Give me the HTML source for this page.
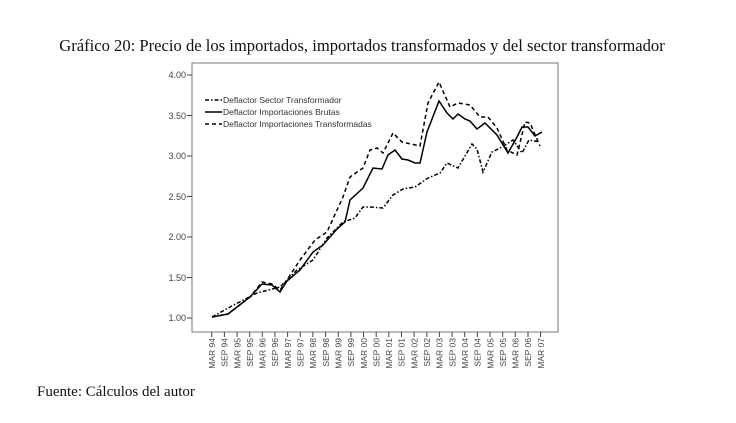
<!DOCTYPE html>
<html><head><meta charset="utf-8"><style>
body{margin:0;background:#fff;width:736px;height:418px;overflow:hidden}
</style></head><body>
<svg width="736" height="418" xmlns="http://www.w3.org/2000/svg">
<text x="362" y="51" text-anchor="middle" font-family="Liberation Serif, serif" font-size="16.6" fill="#111">Gráfico 20: Precio de los importados, importados transformados y del sector transformador</text>
<text x="37" y="396" font-family="Liberation Serif, serif" font-size="15" fill="#111">Fuente: Cálculos del autor</text>
<rect x="192" y="63" width="366" height="269" fill="none" stroke="#777" stroke-width="1"/>
<g font-family="Liberation Sans, sans-serif" font-size="9" fill="#444" text-anchor="end">
<text x="186" y="78">4.00</text><line x1="187" y1="75" x2="192" y2="75" stroke="#444"/>
<text x="186" y="119">3.50</text><line x1="187" y1="115.5" x2="192" y2="115.5" stroke="#444"/>
<text x="186" y="159">3.00</text><line x1="187" y1="156" x2="192" y2="156" stroke="#444"/>
<text x="186" y="200">2.50</text><line x1="187" y1="196.5" x2="192" y2="196.5" stroke="#444"/>
<text x="186" y="240">2.00</text><line x1="187" y1="237" x2="192" y2="237" stroke="#444"/>
<text x="186" y="281">1.50</text><line x1="187" y1="277.5" x2="192" y2="277.5" stroke="#444"/>
<text x="186" y="321">1.00</text><line x1="187" y1="318" x2="192" y2="318" stroke="#444"/>
</g>
<g fill="none" stroke="#000" stroke-width="1.5">
<polyline points="212,317 228,314 250,297 262,284 272,285 280,292 287,281 300,270 313,252 323,245 337,229 345,222 350,200 363,188 373,168 382,169 388,155 395,150 402,159 408,160 415,163 420,163 427,132 439,101 447,113 453,119 458,114 465,119 470,121 477,129 485,123 497,135 508,153 517,137 522,127 528,127 535,136 542,132"/>
<polyline stroke-dasharray="4,3" points="212,317 228,314 250,297 262,282 272,284 280,290 287,280 300,260 315,240 327,232 337,210 343,197 350,177 363,168 370,150 377,148 383,153 393,133 402,142 420,146 428,103 439,82 450,107 458,103 470,105 480,117 488,117 497,128 507,150 517,155 525,122 530,123 540,146"/>
<polyline stroke-dasharray="4,2,1.5,2" points="212,317 230,307 257,293 280,287 297,270 313,260 327,238 343,222 355,218 363,207 370,207 383,208 393,195 403,189 415,187 428,178 440,173 447,163 458,168 472,144 477,149 483,172 492,152 502,147 513,140 522,153 529,140 540,142"/>
</g>
<g stroke="#000" stroke-width="1.5">
<line x1="205" y1="100" x2="222" y2="100" stroke-dasharray="4,2,1.5,2"/>
<line x1="205" y1="112" x2="222" y2="112"/>
<line x1="205" y1="124" x2="222" y2="124" stroke-dasharray="4,3"/>
</g>
<g font-family="Liberation Sans, sans-serif" font-size="8.5" fill="#333">
<text x="223" y="103">Deflactor Sector Transformador</text>
<text x="223" y="115">Deflactor Importaciones Brutas</text>
<text x="223" y="127">Deflactor Importaciones Transformadas</text>
</g>
<g font-family="Liberation Sans, sans-serif" font-size="8.5" fill="#444" text-anchor="end" stroke="#444">
<line x1="211.7" y1="332" x2="211.7" y2="337"/><text stroke="none" transform="translate(215,338) rotate(-90)">MAR 94</text>
<line x1="224.4" y1="332" x2="224.4" y2="337"/><text stroke="none" transform="translate(227.6,338) rotate(-90)">SEP 94</text>
<line x1="237.0" y1="332" x2="237.0" y2="337"/><text stroke="none" transform="translate(240.3,338) rotate(-90)">MAR 95</text>
<line x1="249.7" y1="332" x2="249.7" y2="337"/><text stroke="none" transform="translate(252.9,338) rotate(-90)">SEP 95</text>
<line x1="262.3" y1="332" x2="262.3" y2="337"/><text stroke="none" transform="translate(265.6,338) rotate(-90)">MAR 96</text>
<line x1="275.0" y1="332" x2="275.0" y2="337"/><text stroke="none" transform="translate(278.2,338) rotate(-90)">SEP 96</text>
<line x1="287.6" y1="332" x2="287.6" y2="337"/><text stroke="none" transform="translate(290.9,338) rotate(-90)">MAR 97</text>
<line x1="300.3" y1="332" x2="300.3" y2="337"/><text stroke="none" transform="translate(303.5,338) rotate(-90)">SEP 97</text>
<line x1="312.9" y1="332" x2="312.9" y2="337"/><text stroke="none" transform="translate(316.2,338) rotate(-90)">MAR 98</text>
<line x1="325.6" y1="332" x2="325.6" y2="337"/><text stroke="none" transform="translate(328.8,338) rotate(-90)">SEP 98</text>
<line x1="338.2" y1="332" x2="338.2" y2="337"/><text stroke="none" transform="translate(341.5,338) rotate(-90)">MAR 99</text>
<line x1="350.9" y1="332" x2="350.9" y2="337"/><text stroke="none" transform="translate(354.1,338) rotate(-90)">SEP 99</text>
<line x1="363.5" y1="332" x2="363.5" y2="337"/><text stroke="none" transform="translate(366.8,338) rotate(-90)">MAR 00</text>
<line x1="376.2" y1="332" x2="376.2" y2="337"/><text stroke="none" transform="translate(379.4,338) rotate(-90)">SEP 00</text>
<line x1="388.8" y1="332" x2="388.8" y2="337"/><text stroke="none" transform="translate(392.1,338) rotate(-90)">MAR 01</text>
<line x1="401.5" y1="332" x2="401.5" y2="337"/><text stroke="none" transform="translate(404.7,338) rotate(-90)">SEP 01</text>
<line x1="414.1" y1="332" x2="414.1" y2="337"/><text stroke="none" transform="translate(417.4,338) rotate(-90)">MAR 02</text>
<line x1="426.8" y1="332" x2="426.8" y2="337"/><text stroke="none" transform="translate(430,338) rotate(-90)">SEP 02</text>
<line x1="439.4" y1="332" x2="439.4" y2="337"/><text stroke="none" transform="translate(442.7,338) rotate(-90)">MAR 03</text>
<line x1="452.1" y1="332" x2="452.1" y2="337"/><text stroke="none" transform="translate(455.3,338) rotate(-90)">SEP 03</text>
<line x1="464.7" y1="332" x2="464.7" y2="337"/><text stroke="none" transform="translate(468,338) rotate(-90)">MAR 04</text>
<line x1="477.4" y1="332" x2="477.4" y2="337"/><text stroke="none" transform="translate(480.6,338) rotate(-90)">SEP 04</text>
<line x1="490.0" y1="332" x2="490.0" y2="337"/><text stroke="none" transform="translate(493.3,338) rotate(-90)">MAR 05</text>
<line x1="502.7" y1="332" x2="502.7" y2="337"/><text stroke="none" transform="translate(505.9,338) rotate(-90)">SEP 05</text>
<line x1="515.3" y1="332" x2="515.3" y2="337"/><text stroke="none" transform="translate(518.6,338) rotate(-90)">MAR 06</text>
<line x1="528.0" y1="332" x2="528.0" y2="337"/><text stroke="none" transform="translate(531.2,338) rotate(-90)">SEP 06</text>
<line x1="540.6" y1="332" x2="540.6" y2="337"/><text stroke="none" transform="translate(543.9,338) rotate(-90)">MAR 07</text>
</g>
</svg>
</body></html>
